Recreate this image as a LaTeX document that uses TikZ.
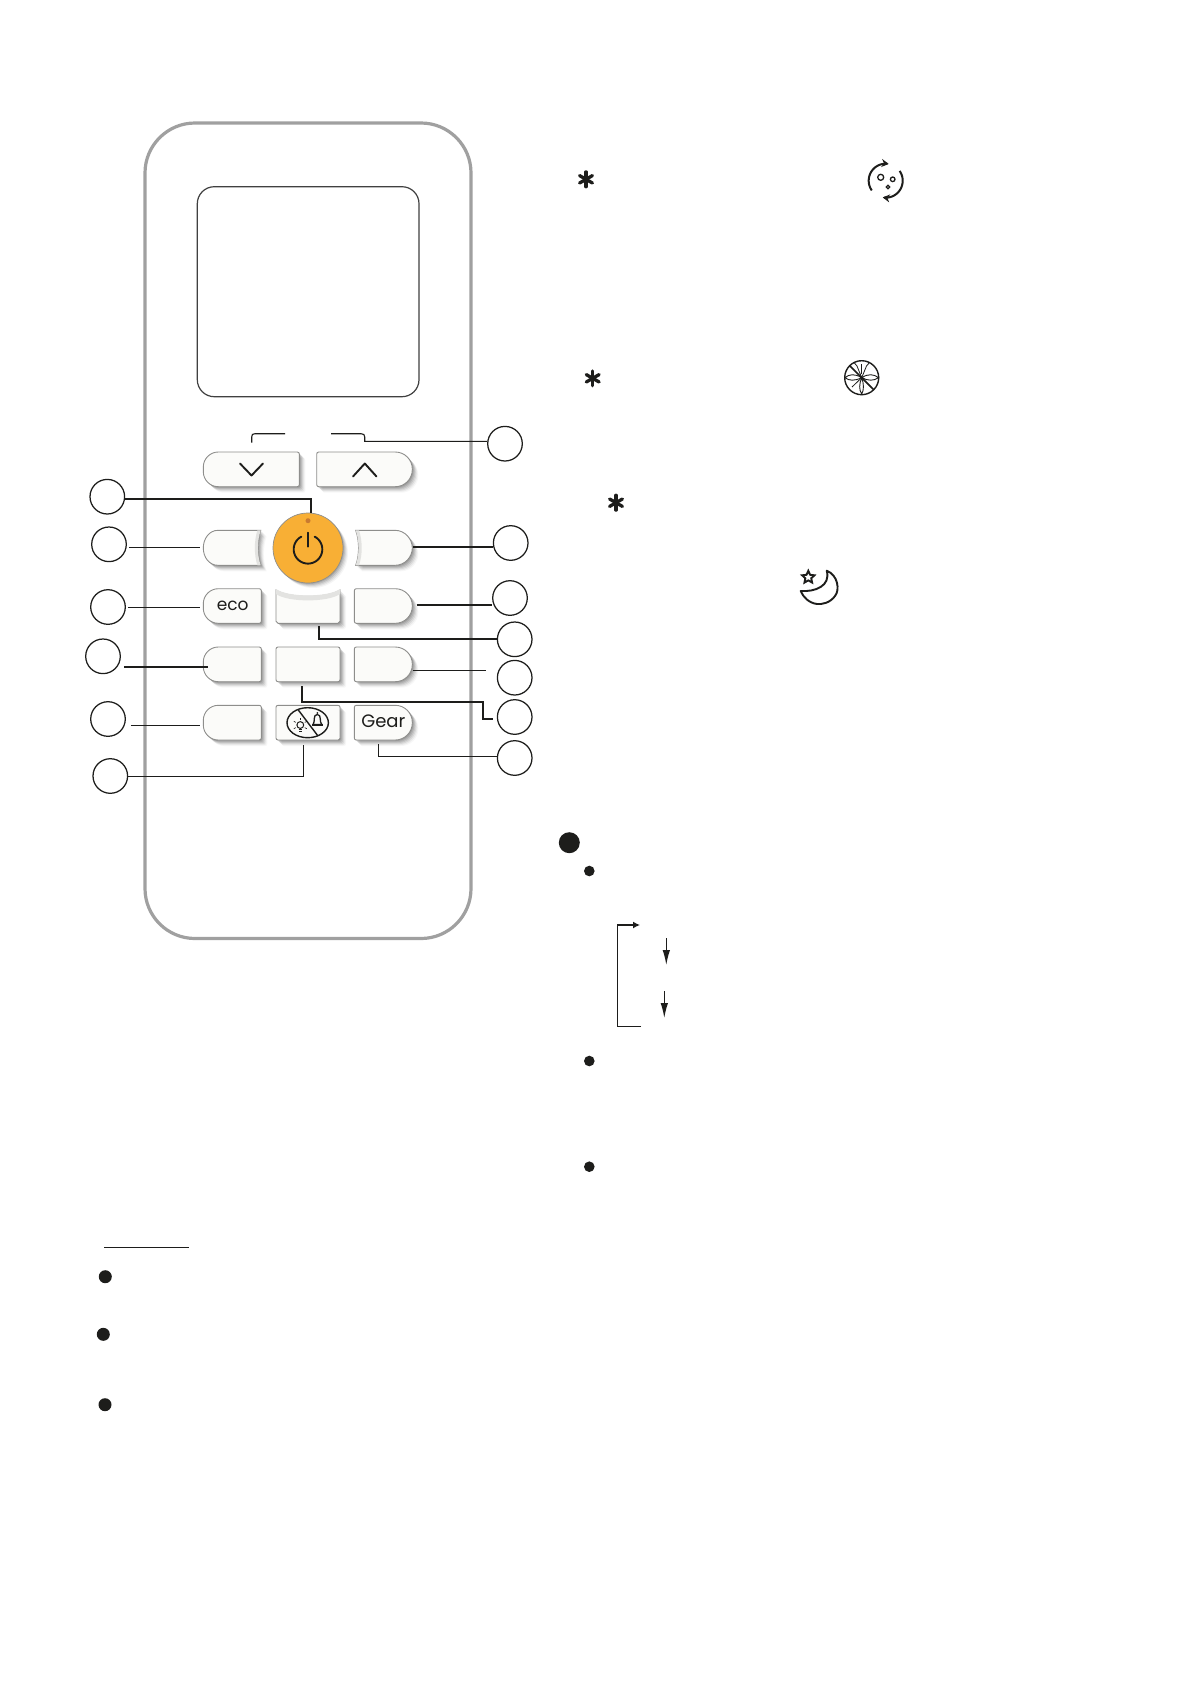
\documentclass[tikz,border=0pt]{standalone}
\usepackage{fontspec}
\setmainfont{Poppins}
\usetikzlibrary{arrows.meta,shapes.geometric,calc}
\definecolor{ink}{HTML}{1D1D1B}
\definecolor{bodygray}{HTML}{A0A0A0}
\definecolor{keyfill}{HTML}{FBFBF9}
\definecolor{keyedge}{HTML}{8E8E8C}
\definecolor{lip}{HTML}{E3E3E1}
\definecolor{powerorange}{HTML}{F8AF35}
\definecolor{ledmark}{HTML}{C97A30}
\tikzset{
  num/.style={circle,draw=ink,line width=1.25pt,fill=white,minimum size=34.6pt,inner sep=0pt},
  wire/.style={draw=ink,line width=1.1pt},
  wirethick/.style={draw=ink,line width=1.8pt},
  key/.style={fill=keyfill,draw=keyedge,line width=.9pt},
  glyph/.style={draw=ink,line width=1.9pt,line cap=round,line join=round},
  dotk/.style={circle,fill=ink,inner sep=0pt},
  flowline/.style={draw=ink,line width=1.3pt},
  flowtip/.style={-{Latex[length=15pt,width=7.5pt]}},
}
% rounded rectangle with its own radius for each corner: x1,y1,x2,y2,rTL,rTR,rBR,rBL
\newcommand\rr[8]{({#1+#5},#2) -- ({#3-#6},#2) .. controls ({#3-.45*#6},#2) and (#3,{#2+.45*#6}) .. (#3,{#2+#6}) -- (#3,{#4-#7}) .. controls (#3,{#4-.45*#7}) and ({#3-.45*#7},#4) .. ({#3-#7},#4) -- ({#1+#8},#4) .. controls ({#1+.45*#8},#4) and (#1,{#4-.45*#8}) .. (#1,{#4-#8}) -- (#1,{#2+#5}) .. controls (#1,{#2+.45*#5}) and ({#1+.45*#5},#2) .. ({#1+#5},#2) -- cycle}
\newcommand\softkey[1]{%
  \foreach \d/\o in {1/.10,2/.10,3/.09,4/.07,5/.05,6/.03}{\fill[black,opacity=\o,shift={(\d,\d)}] #1;}
  \draw[key] #1;}
\newcommand\astmark[2]{\foreach \a in {90,150,210,270,330,30}
  {\draw[ink,line width=3.3pt,line cap=round] (#1,#2) -- ({#1+7.4*cos(\a)},{#2-7.4*sin(\a)});}}
\begin{document}
\begin{tikzpicture}[x=1pt,y=-1pt]
\useasboundingbox (0,0) rectangle (1191,1684);
\fill[white] (0,0) rectangle (1191,1684);
% body and screen
\draw[bodygray,line width=3.2pt,rounded corners=50pt] (145,123) rectangle (471,938.5);
\draw[black!75,line width=1.2pt,rounded corners=17pt] (197.3,186.7) rectangle (419,396.7);

% keys
\softkey{\rr{203.3}{452}{299.3}{486.7}{15}{2}{2}{15}}
\softkey{\rr{316.7}{452}{412.3}{486.7}{2}{17}{17}{2}}
% row 2 with concave inner edges
\softkey{(218,530.3) -- (260.7,530.3) .. controls (257,541) and (257,555) .. (260.7,565.3) -- (218,565.3) .. controls (209,565.3) and (203.3,557) .. (203.3,548) .. controls (203.3,539) and (209,530.3) .. (218,530.3) -- cycle}
\fill[lip] (260.7,530.3) .. controls (257,541) and (257,555) .. (260.7,565.3) -- (257.4,565.3) .. controls (254,555) and (254,541) .. (257.4,530.3) -- cycle;
\softkey{(355.7,530.3) -- (395,530.3) .. controls (405,530.3) and (412.3,539) .. (412.3,548) .. controls (412.3,557) and (405,565.3) .. (395,565.3) -- (355.7,565.3) .. controls (359.5,555) and (359.5,541) .. (355.7,530.3) -- cycle}
\fill[lip] (355.7,530.3) .. controls (359.5,541) and (359.5,555) .. (355.7,565.3) -- (359,565.3) .. controls (362.6,555) and (362.6,541) .. (359,530.3) -- cycle;
% row 3
\softkey{\rr{203.3}{588.7}{261.3}{623.3}{15}{2}{2}{15}}
\softkey{(276,590) .. controls (288,598.5) and (328,598.5) .. (340,590) -- (340,621.3) -- (338,623.3) -- (278,623.3) -- (276,621.3) -- cycle}
\fill[lip] (276,589) .. controls (288,597.5) and (328,597.5) .. (340,589) -- (340,594) .. controls (328,602.5) and (288,602.5) .. (276,594) -- cycle;
\softkey{\rr{354.3}{588.7}{412.3}{623.3}{2}{17}{17}{2}}
% row 4
\softkey{\rr{203.3}{647}{261.3}{681.7}{15}{2}{2}{15}}
\softkey{\rr{276}{647}{340}{681.7}{2}{2}{2}{2}}
\softkey{\rr{354.3}{647}{412.3}{681.7}{2}{17}{17}{2}}
% row 5
\softkey{\rr{203.3}{705.3}{261.3}{740}{15}{2}{2}{15}}
\softkey{\rr{276}{705.3}{340}{740}{2}{2}{2}{2}}
\softkey{\rr{354.3}{705.3}{412.3}{740}{2}{17}{17}{2}}

% chevrons
\draw[glyph] (240,463.5) -- (251.5,475.5) -- (263,463.5);
\draw[glyph] (353,476.5) -- (364.8,463.5) -- (376.5,476.5);

% power key
\foreach \d/\o in {1/.10,2/.10,3/.08,4/.06,5/.04}{\fill[black,opacity=\o] (308+\d,548+\d) circle (35);}
\node[circle,fill=powerorange,draw=keyedge,line width=.7pt,minimum size=70pt,inner sep=0pt] (power) at (308,548) {};
\node[circle,fill=ledmark,minimum size=5pt,inner sep=0pt] (led) at (308,520.7) {};
\draw[glyph] plot[domain=62:-242,samples=50] ({308+14.3*cos(\x)},{549.3-14.3*sin(\x)});
\draw[glyph] (308,532.7) -- (308,546.7);

% key texts
\node[inner sep=0pt,font=\fontsize{17}{17}\selectfont,text=ink] (eco) at (232.7,606.3) {eco};
\node[inner sep=0pt,font=\fontsize{18}{18}\selectfont,text=ink] (gear) at (383.3,721.3) {Gear};

% lamp + bell key
\draw[ink,line width=1.4pt] (307.7,722.7) ellipse (20.7 and 15);
\draw[ink,line width=1.4pt] (298.3,710) -- (318,736);
\draw[ink,line width=1pt] (300.3,725) circle (3.4);
\draw[ink,line width=1.1pt] (298.7,729.5) -- (301.9,729.5) (299.1,731.5) -- (301.5,731.5);
\foreach \a in {30,90,150,210,-30}{\draw[ink,line width=.6pt] ({300.3+5.2*cos(\a)},{725-5.2*sin(\a)}) -- ({300.3+7.5*cos(\a)},{725-7.5*sin(\a)});}
\draw[ink,line width=1.3pt,line join=round] (313,724.5) .. controls (315.5,722) and (312.5,714.5) .. (317.3,714.5) .. controls (322,714.5) and (319,722) .. (321.8,724.5) -- cycle;
\fill[ink] (311.5,724) rectangle (323.2,726);
\fill[ink] (317.3,713) circle (1);

% numbered circles
\node[num] (nTop) at (505,443.7) {};
\node[num] (nPower) at (107.3,496.7) {};
\node[num] (nL2) at (109,544.3) {};
\node[num] (nEco) at (108,607) {};
\node[num] (nL4) at (103,656.3) {};
\node[num] (nL5) at (108,719) {};
\node[num] (nL6) at (110.3,776) {};
\node[num] (nR2) at (510.7,543) {};
\node[num] (nR3) at (510,598) {};
\node[num] (nMid) at (514.7,639.3) {};
\node[num] (nR4) at (514.7,677.7) {};
\node[num] (nC4) at (514.7,717) {};
\node[num] (nGear) at (514.7,758) {};

% connector anchors on the keys
\coordinate (aUp) at (364.7,441.3);
\coordinate (aPower) at (311,513.3);
\coordinate (aL2) at (200,547.3);
\coordinate (aEco) at (200,607.3);
\coordinate (aL4) at (207.7,666.7);
\coordinate (aL5) at (200,725.3);
\coordinate (aBell) at (303.3,745);
\coordinate (aR2) at (413.3,546.7);
\coordinate (aR3) at (416.7,604.7);
\coordinate (aMid) at (318.7,626);
\coordinate (aR4) at (413.3,670.7);
\coordinate (aC4) at (301.7,686);
\coordinate (aGear) at (378.3,744);

% connectors
\draw[wire] (251.7,442.7) -- (251.7,437) .. controls (251.7,434.5) and (252.5,433.7) .. (255,433.7) -- (285,433.7);
\draw[wire] (331,433.7) -- (361,433.7) .. controls (363.7,433.7) and (364.7,434.7) .. (364.7,437) -- (aUp) -- (aUp -| nTop.west);
\draw[wirethick] (nPower.east |- 0,499) -- (311,499) -- (aPower);
\draw[wire] ([xshift=2pt]nL2.east |- aL2) -- (aL2);
\draw[wire] ([xshift=2pt]nEco.east |- aEco) -- (aEco);
\draw[wirethick,line width=2.1pt] (124,666.7) -- (aL4);
\draw[wire] ([xshift=5pt]nL5.east |- aL5) -- (aL5);
\draw[wire] (nL6.east |- 0,776.3) -- (aBell |- 0,776.3) -- (aBell);
\draw[wirethick] (aR2) -- (aR2 -| nR2.west);
\draw[wirethick] (aR3) -- (aR3 -| nR3.west);
\draw[wirethick] (aMid) -- (aMid |- nMid.west) -- (nMid.west);
\draw[wire,line width=1.5pt] (aR4) -- (486,670.7);
\draw[wirethick] (aC4) -- (301.7,702) -- (482.7,702) -- (482.7,719.3) -- (492.7,719.3);
\draw[wire] (aGear) -- (378.3,756.3) -- (nGear.west |- 0,756.3);

% asterisks
\astmark{586}{179.3}
\astmark{592.7}{378.3}
\astmark{616}{502.7}

% wash icon
\draw[ink,line width=2pt,-{Stealth[length=7pt,width=8pt]}] plot[domain=215:80,samples=30] ({885.7+17*cos(\x)},{180.7-17*sin(\x)});
\draw[ink,line width=2pt,-{Stealth[length=7pt,width=8pt]}] plot[domain=35:-100,samples=30] ({885.7+17*cos(\x)},{180.7-17*sin(\x)});
\draw[ink,line width=1.3pt] (880.7,177.3) circle (3) (892.7,179.3) circle (2.3) (888,187) circle (1.8);

% mosquito icon
\draw[ink,line width=1.4pt] (861.7,377.7) circle (17);
\draw[ink,line width=1.5pt] (849.7,365.7) -- (873.7,389.7);
\draw[ink,line width=.9pt] (861.7,377.7) .. controls (855,373.5) and (849,374) .. (845,377.7) .. controls (849,381) and (855,381) .. (861.7,377.7);
\draw[ink,line width=.9pt] (861.7,377.7) .. controls (868,373.5) and (874,374) .. (878.5,377.7) .. controls (874,381) and (868,381) .. (861.7,377.7);
\draw[ink,line width=.9pt] (861.7,377.7) .. controls (859,384) and (859,390) .. (861.7,394) .. controls (864,390) and (864,384) .. (861.7,377.7);
\draw[ink,line width=.8pt] (861.7,377.7) -- (857,366) -- (854,362.5) (861.7,377.7) -- (866.5,366) -- (869.5,362.5);
\draw[ink,line width=.8pt] (861.7,364) -- (861.7,374);
\draw[ink,line width=.8pt] (861.7,377.7) -- (852,387) (861.7,377.7) -- (871,387);

% moon icon
\draw[ink,line width=1.9pt,line join=round] (826.7,570.7) .. controls (838,575) and (840,590) .. (835,596) .. controls (830,603) and (822,604.5) .. (817,604) .. controls (809,603) and (803,597) .. (800.7,591) .. controls (815,592) and (831,586) .. (826.7,570.7) -- cycle;
\node[star,star points=5,star point ratio=2.1,draw=ink,line width=1.9pt,minimum size=13pt,inner sep=0pt] (starmark) at (808.3,577.3) {};

% notes marks, right column
\node[dotk,minimum size=21pt] (bigdot) at (569.3,842.7) {};
\node[dotk,minimum size=10.6pt] (d1) at (589.3,871) {};
\node[dotk,minimum size=10.6pt] (d2) at (589.3,1061) {};
\node[dotk,minimum size=10.6pt] (d3) at (589.3,1166.7) {};

% flow arrows
\coordinate (fTop) at (640,925);
\coordinate (fBottom) at (641,1026.7);
\draw[flowline,-{Latex[length=7pt,width=7pt]}] (fBottom) -- (617.7,1026.7) -- (617.7,925) -- (fTop);
\coordinate (f1a) at (666.3,938.3);
\coordinate (f1b) at (666.3,965);
\coordinate (f2a) at (664.3,991.3);
\coordinate (f2b) at (664.3,1018);
\draw[flowline,flowtip] (f1a) -- (f1b);
\draw[flowline,flowtip] (f2a) -- (f2b);

% notes marks, lower left
\draw[ink,line width=1.2pt] (104,1247.3) -- (189,1247.3);
\node[dotk,minimum size=13pt] (e1) at (105.3,1276.7) {};
\node[dotk,minimum size=13pt] (e2) at (103.3,1334.3) {};
\node[dotk,minimum size=13pt] (e3) at (105,1404.7) {};
\end{tikzpicture}
\end{document}
